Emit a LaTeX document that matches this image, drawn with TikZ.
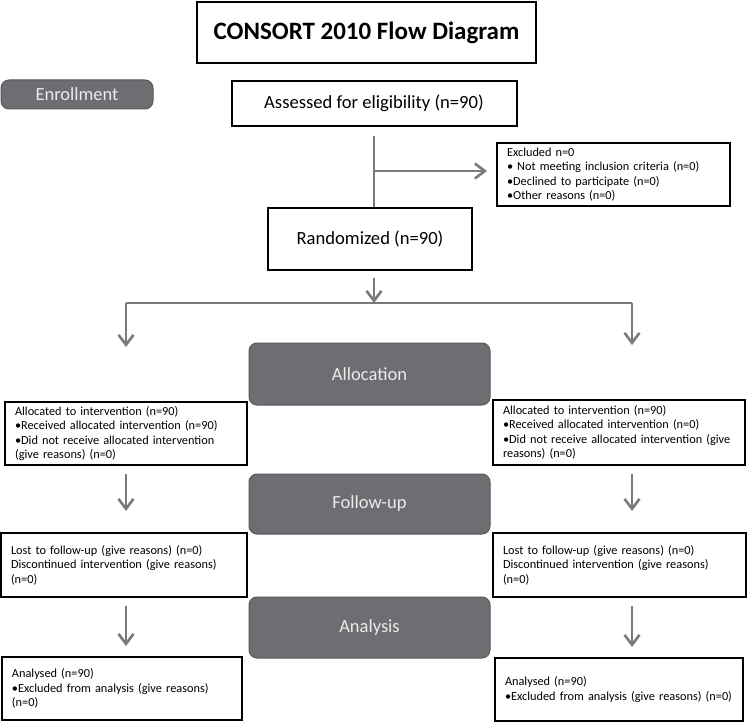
\documentclass[tikz,border=0pt]{standalone}
\usepackage{xcolor}
\usepackage{fontspec}
\setmainfont{Carlito}
\usepackage{tikz}
\usetikzlibrary{arrows.meta}

\definecolor{linegray}{HTML}{7A7A7A}
\definecolor{stagefill}{HTML}{6D6E71}
\definecolor{stageedge}{HTML}{58595B}

\begin{document}
\begin{tikzpicture}[x=1pt, y=-1pt]
\tikzstyle{box}=[draw=black, line width=2pt, fill=white, rectangle]
\tikzstyle{bigtext}=[font=\fontsize{18.6}{22}\selectfont]
\tikzstyle{smalltext}=[font=\fontsize{12.3}{14.4}\selectfont, align=left, inner xsep=10pt]
\tikzstyle{stage}=[draw=stageedge, line width=1pt, fill=stagefill, rounded corners=8pt, text=white!92!black, font=\fontsize{18.5}{22}\selectfont]
\tikzstyle{flow}=[draw=linegray, line width=2.6pt]
\tikzstyle{flowarrow}=[draw=linegray, line width=2.6pt, -{Straight Barb[length=10pt,width=15pt]}]

\useasboundingbox (0,0) rectangle (750,722);

% Title and enrollment
\node[box, minimum width=339pt, minimum height=61pt, font=\fontsize{25}{30}\selectfont\bfseries] (title) at (366.5,32.5) {CONSORT 2010 Flow Diagram};
\node[stage, minimum width=152pt, minimum height=29pt] (enroll) at (77,94.5) {Enrollment};
\node[box, bigtext, minimum width=285pt, minimum height=45pt] (assessed) at (374,103.5) {Assessed for eligibility (n=90)};
\node[box, smalltext, text width=213pt, minimum width=233pt, minimum height=63pt] (excluded) at (613.5,174.5) {Excluded n=0\\
  • Not meeting inclusion criteria (n=0)\\
  •Declined to participate (n=0)\\
  •Other reasons (n=0)};
\node[box, bigtext, minimum width=204pt, minimum height=62pt] (randomized) at (370,239) {Randomized (n=90)};

% Stage labels
\node[stage, minimum width=241pt, minimum height=62pt] (allocation) at (369.5,374) {Allocation};
\node[stage, minimum width=241pt, minimum height=60pt] (followup) at (369.5,504) {Follow-up};
\node[stage, minimum width=241pt, minimum height=61pt] (analysis) at (369.5,627.5) {Analysis};

% Left arm
\node[box, smalltext, text width=222pt, minimum width=242pt, minimum height=63pt] (allocL) at (126,433.5) {Allocated to intervention (n=90)\\
  •Received allocated intervention (n=90)\\
  •Did not receive allocated intervention\\
  (give reasons) (n=0)};
\node[box, smalltext, text width=226pt, minimum width=246pt, minimum height=64pt] (lostL) at (124,565) {Lost to follow-up (give reasons) (n=0)\\
  Discontinued intervention (give reasons)\\
  (n=0)};
\node[box, smalltext, text width=220pt, minimum width=240pt, minimum height=63pt] (analysedL) at (122,688.5) {Analysed (n=90)\\
  •Excluded from analysis (give reasons)\\
  (n=0)};

% Right arm
\node[box, smalltext, text width=232pt, minimum width=252pt, minimum height=65pt] (allocR) at (619,432.5) {Allocated to intervention (n=90)\\
  •Received allocated intervention (n=0)\\
  •Did not receive allocated intervention (give\\
  reasons) (n=0)};
\node[box, smalltext, text width=233pt, minimum width=253pt, minimum height=64pt] (lostR) at (619.5,565) {Lost to follow-up (give reasons) (n=0)\\
  Discontinued intervention (give reasons)\\
  (n=0)};
\node[box, smalltext, text width=228pt, minimum width=248pt, minimum height=63pt] (analysedR) at (619,689.5) {Analysed (n=90)\\
  •Excluded from analysis (give reasons) (n=0)};

% Connectors
\coordinate (excl-split) at (374,171);
\coordinate (arm-mid) at (374,303);
\coordinate (arm-left) at (126,303);
\coordinate (arm-right) at (632,303);

\path[flow, shorten <=9pt] (assessed.south) -- (randomized.north -| assessed.south);
\path[flowarrow, shorten >=9pt] (excl-split) -- (excl-split -| excluded.west);
\path[flowarrow, shorten <=7pt] (randomized.south -| arm-mid) -- (arm-mid);
\path[flow] (arm-left) -- (arm-right);
\path[flowarrow, shorten >=54pt] (arm-left) -- (arm-left |- allocL.north);
\path[flowarrow, shorten >=54pt] (arm-right) -- (arm-right |- allocR.north);

\path[flowarrow, shorten <=8pt, shorten >=21pt] (allocL.south -| arm-left) -- (lostL.north -| arm-left);
\path[flowarrow, shorten <=8pt, shorten >=10pt] (lostL.south -| arm-left) -- (analysedL.north -| arm-left);
\path[flowarrow, shorten <=8pt, shorten >=21pt] (allocR.south -| arm-right) -- (lostR.north -| arm-right);
\path[flowarrow, shorten <=8pt, shorten >=10pt] (lostR.south -| arm-right) -- (analysedR.north -| arm-right);
\end{tikzpicture}
\end{document}
